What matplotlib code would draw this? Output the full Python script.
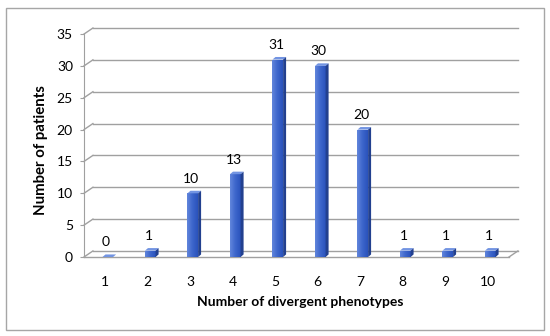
import matplotlib
matplotlib.use('Agg')
import matplotlib.pyplot as plt
from matplotlib.patches import Polygon, Rectangle
from matplotlib.colors import LinearSegmentedColormap
import numpy as np

# data
categories = ['1', '2', '3', '4', '5', '6', '7', '8', '9', '10']
patients = [0, 1, 10, 13, 31, 30, 20, 1, 1, 1]
yticks = [0, 5, 10, 15, 20, 25, 30, 35]

plt.rcParams['font.family'] = ['Lato', 'DejaVu Sans']

W, H = 550, 336
fig = plt.figure(figsize=(W / 100, H / 100), dpi=100)
fig.patch.set_facecolor('white')
fig.patches.append(Rectangle((6 / W, 6 / H), 538 / W, 322 / H, transform=fig.transFigure,
                             fill=False, edgecolor='#a6a6a6', lw=1))

ax = fig.add_axes([84 / W, (H - 257) / H, 434 / W, 231 / H])
xlim = (0.5, 0.5 + 434 / 42.5)
ylim = (0, 231 / 6.37)
ax.patch.set_visible(False)

grid_c = '#a0a0a0'
dx, dy = 0.21, 0.95   # back-wall offset (3d look)
x = np.arange(1, len(categories) + 1)

# back gridlines + diagonals
for t in yticks:
    ax.plot([0.5, 0.5 + dx], [t, t + dy], color=grid_c, lw=1, clip_on=False)
    ax.plot([0.5 + dx, 10.5 + dx], [t + dy, t + dy], color=grid_c, lw=1, clip_on=False)
# floor
ax.plot([0.5, 10.5], [0, 0], color=grid_c, lw=1, clip_on=False)
ax.plot([10.5, 10.5 + dx], [0, dy], color=grid_c, lw=1, clip_on=False)

# bars with 3d faces, front face shaded left->right
bw, bdx, bdy = 0.25, 0.07, 0.4
xs = x + 0.06
front_cmap = LinearSegmentedColormap.from_list('front', ['#6286dc', '#3d66cc', '#2a52bb'])
grad = np.linspace(0, 1, 64).reshape(1, -1)
bars = ax.bar(xs, patients, width=bw, color='#3a63c9', edgecolor='none', zorder=3)
for b, xi, v in zip(bars, xs, patients):
    l, r = xi - bw / 2, xi + bw / 2
    if v > 0:
        im = ax.imshow(grad, cmap=front_cmap, extent=[l, r, 0, v], aspect='auto',
                       zorder=3.5, interpolation='bilinear')
        im.set_clip_path(b)
    top = Polygon([[l, v], [r, v], [r + bdx, v + bdy], [l + bdx, v + bdy]],
                  closed=True, facecolor='#7294e2', edgecolor='none', zorder=4)
    side = Polygon([[r, 0], [r + bdx, bdy], [r + bdx, v + bdy], [r, v]],
                   closed=True, facecolor='#22408f', edgecolor='none', zorder=4)
    ax.add_patch(top)
    ax.add_patch(side)
    ax.text(xi - 0.04, v + 2.3, str(v), ha='center', va='center', fontsize=10, color='black')

ax.set_xlim(*xlim)
ax.set_ylim(*ylim)

for s in ['top', 'right', 'bottom']:
    ax.spines[s].set_visible(False)
ax.spines['left'].set_color(grid_c)
ax.spines['left'].set_bounds(0, 35)

ax.set_yticks(yticks)
ax.set_yticklabels([str(t) for t in yticks], fontsize=10)
ax.tick_params(axis='y', length=3, color=grid_c, pad=5)
ax.set_xticks(x)
ax.set_xticklabels(categories, fontsize=10)
ax.tick_params(axis='x', length=0, pad=14)

ax.set_xlabel('Number of divergent phenotypes', fontsize=10, fontweight='bold')
ax.set_ylabel('Number of patients', fontsize=10.8, fontweight='bold')
ax.xaxis.set_label_coords((300 - 84) / 434, -(296 - 257) / 231)
ax.yaxis.set_label_coords(-(84 - 48) / 434, (257 - 150) / 231)

fig.savefig('out.png', dpi=100)
